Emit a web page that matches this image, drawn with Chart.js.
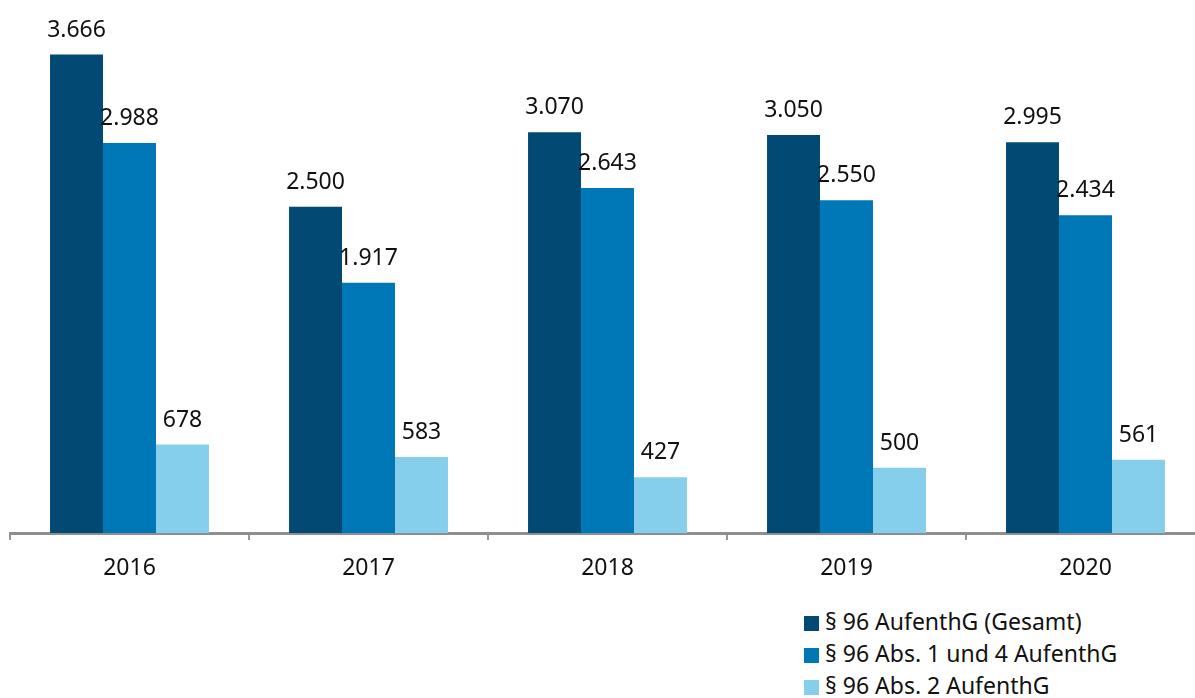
<!DOCTYPE html>
<html lang="de">
<head>
  <meta charset="UTF-8"/>
  <title>§ 96 AufenthG 2016–2020</title>
  <script src="https://cdn.jsdelivr.net/npm/chart.js"></script>
  <style>
    html, body { margin: 0; padding: 0; background: #fff; overflow: hidden; }
    body { font-family: "Noto Sans", Arial, sans-serif; width: 1195px; height: 698px; position: relative; }
    .wrap { position: absolute; left: 0; top: 0; width: 1205px; height: 600px; }
    .legend { position: absolute; left: 804px; top: 605px; font-size: 23px; color: #111; }
    .legend div { height: 32px; line-height: 32px; white-space: nowrap; }
    .legend span { display: inline-block; width: 15px; height: 15px; margin-right: 6px; vertical-align: -1px; }
  </style>
</head>
<body>

<div class="wrap"><canvas id="chart"></canvas></div>
<div class="legend" id="legend"></div>

<script>
  const years = ['2016', '2017', '2018', '2019', '2020'];
  const gesamt = [3666, 2500, 3070, 3050, 2995];
  const abs14 = [2988, 1917, 2643, 2550, 2434];
  const abs2 = [678, 583, 427, 500, 561];
  const seriesNames = ['§ 96 AufenthG (Gesamt)', '§ 96 Abs. 1 und 4 AufenthG', '§ 96 Abs. 2 AufenthG'];
  const colors = ['#024a73', '#0077b6', '#85cfec'];

  const fontFamily = '"Noto Sans", Arial, sans-serif';

  // Werte über den Balken (deutsches Tausendertrennzeichen)
  const valueLabels = {
    id: 'valueLabels',
    afterDatasetsDraw(chart) {
      const ctx = chart.ctx;
      ctx.save();
      ctx.font = '23px ' + fontFamily;
      ctx.fillStyle = '#111';
      ctx.textAlign = 'center';
      ctx.textBaseline = 'alphabetic';
      chart.data.datasets.forEach((ds, i) => {
        chart.getDatasetMeta(i).data.forEach((bar, j) => {
          const txt = String(ds.data[j]).replace(/\B(?=(\d{3})+(?!\d))/g, '.');
          ctx.fillText(txt, bar.x, bar.y - 18);
        });
      });
      ctx.restore();
    }
  };

  new Chart(document.getElementById('chart'), {
    type: 'bar',
    data: {
      labels: years,
      datasets: [gesamt, abs14, abs2].map((d, i) => ({
        label: seriesNames[i],
        data: d,
        backgroundColor: colors[i],
        categoryPercentage: 0.665,
        barPercentage: 1.0
      }))
    },
    options: {
      responsive: true,
      maintainAspectRatio: false,
      animation: false,
      layout: { padding: { left: 10, right: 0, top: 11, bottom: 4 } },
      plugins: { legend: { display: false }, tooltip: { enabled: false } },
      scales: {
        x: {
          grid: { display: true, drawOnChartArea: false, drawTicks: true, tickLength: 7, color: '#999', lineWidth: 2 },
          border: { display: true, color: '#8e8e8e', width: 3 },
          ticks: { color: '#111', font: { family: fontFamily, size: 23 }, padding: 15 },
          afterFit(scale) { scale.height = 63; }
        },
        y: {
          display: false,
          min: 0,
          max: 4000
        }
      }
    },
    plugins: [valueLabels]
  });

  const legendEl = document.getElementById('legend');
  seriesNames.forEach((name, i) => {
    const row = document.createElement('div');
    row.innerHTML = '<span style="background:' + colors[i] + '"></span>' + name;
    legendEl.appendChild(row);
  });
</script>

</body>
</html>
